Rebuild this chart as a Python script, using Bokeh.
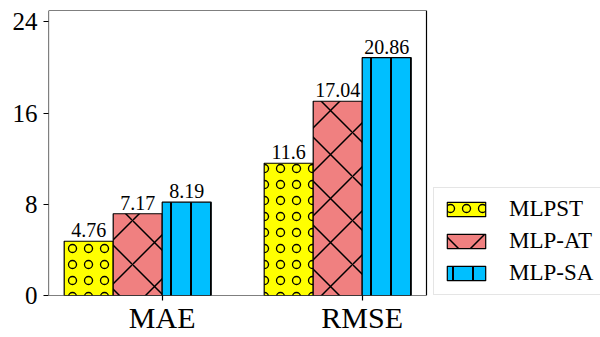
from bokeh.plotting import figure
from bokeh.models import ColumnDataSource, Range1d, FixedTicker, Legend, LegendItem, BoxAnnotation
from bokeh.core.properties import value
from bokeh.embed import file_html
from bokeh.resources import INLINE

categories = ["MAE", "RMSE"]
series_names = ["MLPST", "MLP-AT", "MLP-SA"]
mlpst = [4.76, 11.6]
mlp_at = [7.17, 17.04]
mlp_sa = [8.19, 20.86]
labels_mlpst = ["4.76", "11.6"]
labels_mlp_at = ["7.17", "17.04"]
labels_mlp_sa = ["8.19", "20.86"]
y_ticks = [0, 8, 16, 24]

colors = ["#ffff00", "#f08080", "#00bfff"]
hatches = ["ring", "diagonal_cross", "vertical_line"]
hatch_scales = [16, 44, 20]
hatch_weights = [1.3, 1.5, 2.0]

W = 0.245
FONT = "Liberation Serif"
X_LO, X_HI = -0.5685, 1.3215   # plot box in data units
Y_LO, Y_HI = 0, 25
X_PANEL_HI = 2.1915            # extra room for the legend on the right

p = figure(width=600, height=337, output_backend="svg", toolbar_location=None,
           x_range=Range1d(X_LO, X_PANEL_HI), y_range=Range1d(Y_LO, Y_HI),
           min_border_left=48, min_border_right=0, min_border_top=10, min_border_bottom=42)
p.grid.visible = False
p.outline_line_color = None
p.background_fill_color = "white"
p.border_fill_color = "white"

series = [mlpst, mlp_at, mlp_sa]
texts = [labels_mlpst, labels_mlp_at, labels_mlp_sa]
renderers = []
for k, (vals, txt) in enumerate(zip(series, texts)):
    xs = [i + (k - 1.5) * W for i in range(len(categories))]
    src = ColumnDataSource(dict(x=xs, top=vals, label=txt))
    r = p.vbar(x="x", top="top", width=W, bottom=0, source=src,
               fill_color=colors[k], line_color="black", line_width=1.2,
               hatch_pattern=hatches[k], hatch_color="black",
               hatch_scale=hatch_scales[k], hatch_weight=hatch_weights[k])
    renderers.append(r)
    p.text(x="x", y="top", text="label", source=src, text_align="center",
           text_baseline="bottom", y_offset=-4, text_font=value(FONT),
           text_font_size="20px", text_color="black")

# plot box (spines)
box = BoxAnnotation(left=X_LO, right=X_HI, bottom=Y_LO, top=Y_HI,
                    fill_alpha=0, line_color="black", line_width=1.2, line_alpha=1)
p.add_layout(box)

# axes
p.yaxis.ticker = FixedTicker(ticks=y_ticks)
p.yaxis.minor_tick_line_color = None
p.yaxis.major_tick_out = 5
p.yaxis.major_tick_in = 0
p.yaxis.major_label_text_font = FONT
p.yaxis.major_label_text_font_size = "25px"
p.yaxis.major_label_text_color = "black"
p.yaxis.major_label_standoff = 6
p.yaxis.axis_line_color = None
p.yaxis.major_tick_line_color = "black"
p.yaxis.major_tick_line_width = 1.2

p.xaxis.ticker = FixedTicker(ticks=list(range(len(categories))))
p.xaxis.major_label_overrides = {i: c for i, c in enumerate(categories)}
p.xaxis.minor_tick_line_color = None
p.xaxis.major_tick_out = 5
p.xaxis.major_tick_in = 0
p.xaxis.major_label_text_font = FONT
p.xaxis.major_label_text_font_size = "30px"
p.xaxis.major_label_text_color = "black"
p.xaxis.major_label_standoff = 0
p.xaxis.axis_line_color = None
p.xaxis.major_tick_line_color = "black"
p.xaxis.major_tick_line_width = 1.2

legend = Legend(items=[LegendItem(label=n, renderers=[r]) for n, r in zip(series_names, renderers)],
                location=(385, 0))
legend.label_text_font = FONT
legend.label_text_font_size = "23px"
legend.label_text_color = "black"
legend.glyph_width = 48
legend.glyph_height = 18
legend.label_height = 20
legend.label_standoff = 19
legend.spacing = 6
legend.padding = 8
legend.margin = 0
legend.border_line_color = "#cccccc"
legend.border_line_width = 1
legend.background_fill_alpha = 1.0
p.add_layout(legend, "center")

open("out.html", "w").write(file_html(p, INLINE))
